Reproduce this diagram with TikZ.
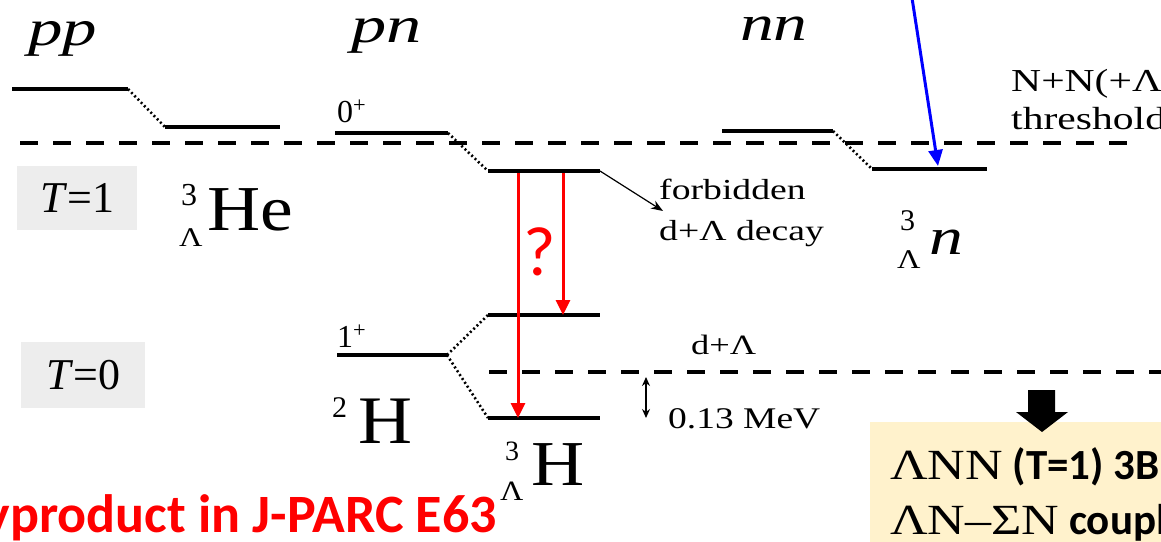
\documentclass[tikz,border=0pt]{standalone}
\usepackage{fontspec}
\setmainfont{Liberation Serif}
\newfontfamily\calib{Carlito}
\usetikzlibrary{arrows.meta}
\definecolor{boxgray}{HTML}{EDEDED}
\definecolor{ylw}{HTML}{FFF2CC}
\newcommand{\fsz}[1]{\fontsize{#1}{#1}\selectfont}
\newcommand{\stretchx}[2][1.3]{\scalebox{#1}[1]{#2}}
\begin{document}
\begin{tikzpicture}[x=1pt,y=-1pt,
  lvl/.style={line width=3.3pt},
  dotl/.style={line width=2.6pt, dash pattern=on 2pt off 2.6pt},
  thr/.style={line width=3.5pt, dash pattern=on 18pt off 15pt},
  redarr/.style={draw=red, line width=3pt, -{Triangle[length=15pt,width=14pt]}},
  lbl/.style={inner sep=0pt, anchor=base west},
  tbox/.style={fill=boxgray, inner sep=0pt, anchor=north west}]
\useasboundingbox (0,0) rectangle (1161,541);

% column titles
\node[lbl] (pp) at (28,45) {\fsz{51}\stretchx[1.35]{\itshape pp}};
\node[lbl] (pn) at (351,42) {\fsz{51}\stretchx[1.38]{\itshape pn}};
\node[lbl] (nn) at (740,40) {\fsz{50}\stretchx[1.35]{\itshape nn}};

% isospin boxes
\node[tbox, minimum width=120pt, minimum height=64pt] (t1box) at (17,166) {};
\node[inner sep=0pt] (t1) at (t1box.center) {\fsz{44}\textit{T}=1};
\node[tbox, minimum width=124pt, minimum height=66pt] (t0box) at (21,342) {};
\node[inner sep=0pt] (t0) at (t0box.center) {\fsz{44}\textit{T}=0};

% level coordinates
\coordinate (ppA) at (12,89);   \coordinate (ppB) at (128,89);
\coordinate (heA) at (165,127); \coordinate (heB) at (280,127);
\coordinate (pnA) at (335,133); \coordinate (pnB) at (448,133);
\coordinate (hsA) at (488,171); \coordinate (hsB) at (600,171);
\coordinate (nnA) at (722,131); \coordinate (nnB) at (833,131);
\coordinate (lnA) at (872,169); \coordinate (lnB) at (987,169);
\coordinate (dA) at (337,355);  \coordinate (dB) at (447,355);
\coordinate (uA) at (488,315);  \coordinate (uB) at (600,315);
\coordinate (gA) at (488,418);  \coordinate (gB) at (600,418);
\coordinate (thL) at (20,143);  \coordinate (thR) at (1135,143);
\coordinate (dlL) at (489,372); \coordinate (dlR) at (1175,372);

% thresholds
\draw[thr] (thL) -- (thR);
\draw[thr] (dlL) -- (dlR);

% levels
\draw[lvl] (ppA) -- (ppB);
\draw[dotl] (ppB) -- (heA);
\draw[lvl] (heA) -- (heB);
\draw[lvl] (pnA) -- (pnB);
\draw[dotl] (pnB) -- (hsA);
\draw[lvl] (hsA) -- (hsB);
\draw[lvl] (nnA) -- (nnB);
\draw[dotl] (nnB) -- (lnA);
\draw[lvl] (lnA) -- (lnB);
\draw[lvl] (dA) -- (dB);
\draw[dotl] (dB) -- (uA);
\draw[dotl] (dB) -- (gA);
\draw[lvl] (uA) -- (uB);
\draw[lvl] (gA) -- (gB);

% spin labels
\node[lbl] (zp) at (337,122) {\fsz{32}0\textsuperscript{+}};
\node[lbl] (op) at (337,347) {\fsz{32}1\textsuperscript{+}};

% nucleus labels
\node[lbl] (he3) at (181,205) {\fsz{32}3};
\node[lbl] (heL) at (179,246) {\fsz{27}\stretchx[1.2]{Λ}};
\node[lbl] (he) at (207,230) {\fsz{64}\stretchx[1.15]{He}};
\node[lbl] (n3) at (900,230) {\fsz{30}3};
\node[lbl] (nL) at (897,268) {\fsz{27}\stretchx[1.2]{Λ}};
\node[lbl] (nn3) at (929,254) {\fsz{52}\stretchx[1.3]{\itshape n}};
\node[lbl] (h2n) at (332,417) {\fsz{30}2};
\node[lbl] (h2) at (358,443) {\fsz{68}\stretchx[1.1]{H}};
\node[lbl] (h3n) at (505,460) {\fsz{28}3};
\node[lbl] (h3L) at (500,500) {\fsz{28}\stretchx[1.15]{Λ}};
\node[lbl] (h3) at (531,485) {\fsz{64}\stretchx[1.15]{H}};

% annotations
\node[lbl] (forb1) at (659,199) {\fsz{29}\stretchx{forbidden}};
\node[lbl] (forb2) at (659,240) {\fsz{29}\stretchx{d+Λ decay}};
\coordinate (fTip) at (663,211);
\draw[line width=1.2pt, -{Stealth[length=12pt,width=9pt]}] (hsB) -- (fTip);
\node[lbl] (dl) at (691,354) {\fsz{28}\stretchx{d+Λ}};
\node[lbl] (mev) at (668,428) {\fsz{30}\stretchx[1.25]{0.13 MeV}};
\coordinate (bA) at (646,377); \coordinate (bB) at (646,418);
\draw[line width=1.3pt, {Stealth[length=9pt,width=8pt]}-{Stealth[length=9pt,width=8pt]}] (bA) -- (bB);
\node[lbl] (nnt1) at (1011,91) {\fsz{32}\stretchx{N+N(+Λ}};
\node[lbl] (nnt2) at (1011,129) {\fsz{32}\stretchx{threshold}};

% transitions
\coordinate (r1s) at (518,173); \coordinate (r1e) at (518,418);
\coordinate (r2s) at (563,173); \coordinate (r2e) at (563,315);
\draw[redarr] (r1s) -- (r1e);
\draw[redarr] (r2s) -- (r2e);
\node[lbl, text=red] (q) at (523,275) {\calib\fsz{70}?};

% blue arrow
\coordinate (bl0) at (912,-2); \coordinate (bl1) at (938,166);
\draw[draw=blue, line width=3pt, -{Triangle[length=16pt,width=14pt]}] (bl0) -- (bl1);

% bottom red text
\node[inner sep=0pt, anchor=base east, text=red] (e63) at (497,532) {\calib\bfseries\fsz{54}yproduct in J-PARC E63};

% yellow box and block arrow
\node[fill=ylw, inner sep=0pt, anchor=north west, minimum width=300pt, minimum height=125pt] (ybox) at (870,422) {};
\fill (1028,390) -- (1055,390) -- (1055,412) -- (1068,412) -- (1042,432) -- (1016,412) -- (1028,412) -- cycle;
\node[lbl] (y1) at (890,479) {\fsz{43}\stretchx[1.21]{ΛNN}\calib\bfseries\ (T=1) 3B};
\node[lbl] (y2) at (890,534) {\fsz{43}\stretchx[1.21]{ΛN–ΣN}\calib\bfseries\ coupl};
\end{tikzpicture}
\end{document}
